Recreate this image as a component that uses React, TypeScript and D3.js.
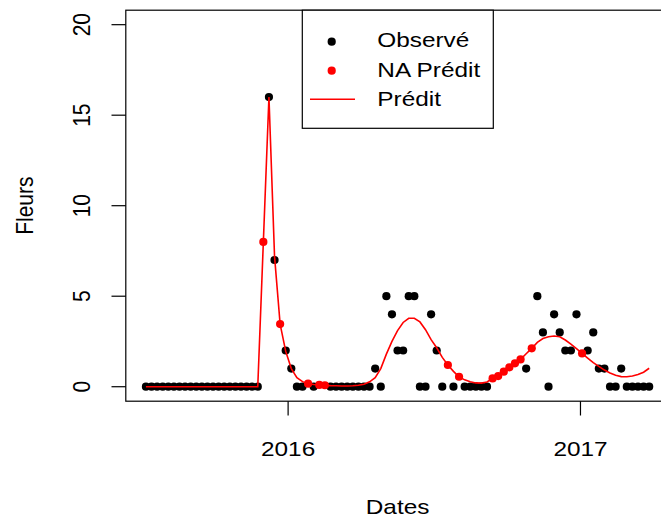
import React from 'react';
import * as d3 from 'd3';

// Weekly survey (one observation every Tuesday)
const START_DATE = '2015-07-07';
const N_WEEKS = 91;

// Observed flower counts (null = missing, replaced by the prediction)
const observed: (number | null)[] = [
  0, 0, 0, 0, 0, 0, 0, 0, 0, 0, 0, 0, 0, 0, 0, 0, 0, 0, 0, 0, 0,
  null, 16, 7, null, 2, 1, 0, 0, null, 0, null, null,
  0, 0, 0, 0, 0, 0, 0, 0,
  1, 0, 5, 4, 2, 2, 5, 5, 0, 0, 4, 2, 0, null, 0, null,
  0, 0, 0, 0, 0,
  null, null, null, null, null, null,
  1, null, 5, 3, 0, 4, 3, 2, 2, 4, null, 2, 3, 1, 1, 0, 0, 1,
  0, 0, 0, 0, 0,
];

// Predicted flower counts (model)
const predicted: number[] = [
  0, 0, 0, 0, 0, 0, 0, 0, 0, 0, 0, 0, 0, 0, 0, 0, 0, 0, 0, 0, 0,
  8, 16, 7.2, 3.46, 1.95, 1.0, 0.5, 0.28, 0.17, 0.12, 0.1, 0.08,
  0.06, 0.05, 0.04, 0.04, 0.05, 0.08, 0.14, 0.27,
  0.5, 1.0, 1.8, 2.5, 3.1, 3.55, 3.78, 3.78, 3.58, 3.15, 2.6, 2.15, 1.62, 1.2, 0.85, 0.55,
  0.38, 0.27, 0.21, 0.2, 0.26,
  0.46, 0.59, 0.83, 1.07, 1.29, 1.51,
  1.82, 2.12, 2.45, 2.66, 2.76, 2.8, 2.76, 2.58, 2.35, 2.1, 1.84, 1.58, 1.33, 1.12, 0.92, 0.76, 0.63, 0.56,
  0.55, 0.59, 0.67, 0.8, 1.02,
];

const yTicks = [0, 5, 10, 15, 20];
const xTickDates = ['2016-01-01', '2017-01-01'];
const xTickLabels = ['2016', '2017'];
const legendLabels = ['Observé', 'NA Prédit', 'Prédit'];
const Y_DOMAIN = [-0.8, 20.8];

const parse = d3.timeParse('%Y-%m-%d');
const FONT = '"Liberation Sans", Arial, Helvetica, sans-serif';
const FS = 21;
const SX = 1.16; // horizontal stretch of the original raster

export default function App() {
  const start = parse(START_DATE) as Date;
  const data = d3.range(N_WEEKS).map((i) => ({
    date: d3.timeDay.offset(start, 7 * i),
    obs: observed[i],
    pred: predicted[i],
  }));

  const left = 125.8, right = 669.3, top = 10.2, bottom = 401.2;
  // R-style 4% padding around the date range
  const [d0, d1] = d3.extent(data, (d) => d.date) as [Date, Date];
  const pad = (d1.getTime() - d0.getTime()) * 0.04;
  const x = d3.scaleTime()
    .domain([new Date(d0.getTime() - pad), new Date(d1.getTime() + pad)])
    .range([left, right]);
  const y = d3.scaleLinear().domain(Y_DOMAIN).range([bottom, top]);

  const line = d3.line<{ date: Date; pred: number }>()
    .x((d) => x(d.date))
    .y((d) => y(d.pred));

  const R = 4.1;
  const red = '#FF0000';

  const lg = { x: 302.3, y: top, w: 191, h: 118.1 };

  return (
    <svg width={661} height={520} style={{ position: 'absolute', left: 0, top: 0, background: '#fff' }}
      fontFamily={FONT}>
      <rect x={0} y={0} width={661} height={520} fill="#fff" />
      <defs>
        <clipPath id="plotclip">
          <rect x={left} y={top} width={right - left} height={bottom - top} />
        </clipPath>
      </defs>
      <g clipPath="url(#plotclip)">
        {data.filter((d) => d.obs !== null).map((d, i) => (
          <circle key={'o' + i} cx={x(d.date)} cy={y(d.obs as number)} r={R} fill="#000" />
        ))}
        <path d={line(data) || ''} fill="none" stroke={red} strokeWidth={1.6} />
        {data.filter((d) => d.obs === null).map((d, i) => (
          <circle key={'p' + i} cx={x(d.date)} cy={y(d.pred)} r={R} fill={red} />
        ))}
      </g>
      <rect x={left} y={top} width={right - left} height={bottom - top} fill="none" stroke="#000" strokeWidth={1.2} />
      {yTicks.map((t) => (
        <g key={'y' + t}>
          <line x1={left - 14.3} x2={left} y1={y(t)} y2={y(t)} stroke="#000" strokeWidth={1.2} />
          <text transform={`translate(90,${y(t)}) scale(${SX},1) rotate(-90)`} textAnchor="middle"
            fontSize={FS} fill="#000">{t}</text>
        </g>
      ))}
      {xTickDates.map((s, i) => {
        const xx = x(parse(s) as Date);
        return (
          <g key={'x' + s}>
            <line x1={xx} x2={xx} y1={bottom} y2={bottom + 14.3} stroke="#000" strokeWidth={1.2} />
            <text transform={`translate(${xx},456) scale(${SX},1)`} textAnchor="middle" fontSize={FS} fill="#000">
              {xTickLabels[i]}
            </text>
          </g>
        );
      })}
      <text transform={`translate(${(left + right) / 2},514) scale(${SX},1)`} textAnchor="middle" fontSize={FS} fill="#000">Dates</text>
      <text transform={`translate(33.3,${(top + bottom) / 2}) scale(${SX},1) rotate(-90)`} textAnchor="middle" fontSize={FS} fill="#000">Fleurs</text>
      <rect x={lg.x} y={lg.y} width={lg.w} height={lg.h} fill="#fff" stroke="#000" strokeWidth={1.2} />
      <circle cx={331.7} cy={41.7} r={R} fill="#000" />
      <circle cx={331.7} cy={70.7} r={R} fill={red} />
      <line x1={310} x2={355} y1={99.3} y2={99.3} stroke={red} strokeWidth={1.6} />
      {legendLabels.map((l, i) => (
        <text key={l} transform={`translate(377.3,${47.3 + i * 29.5}) scale(${SX},1)`} fontSize={FS} fill="#000">{l}</text>
      ))}
    </svg>
  );
}
